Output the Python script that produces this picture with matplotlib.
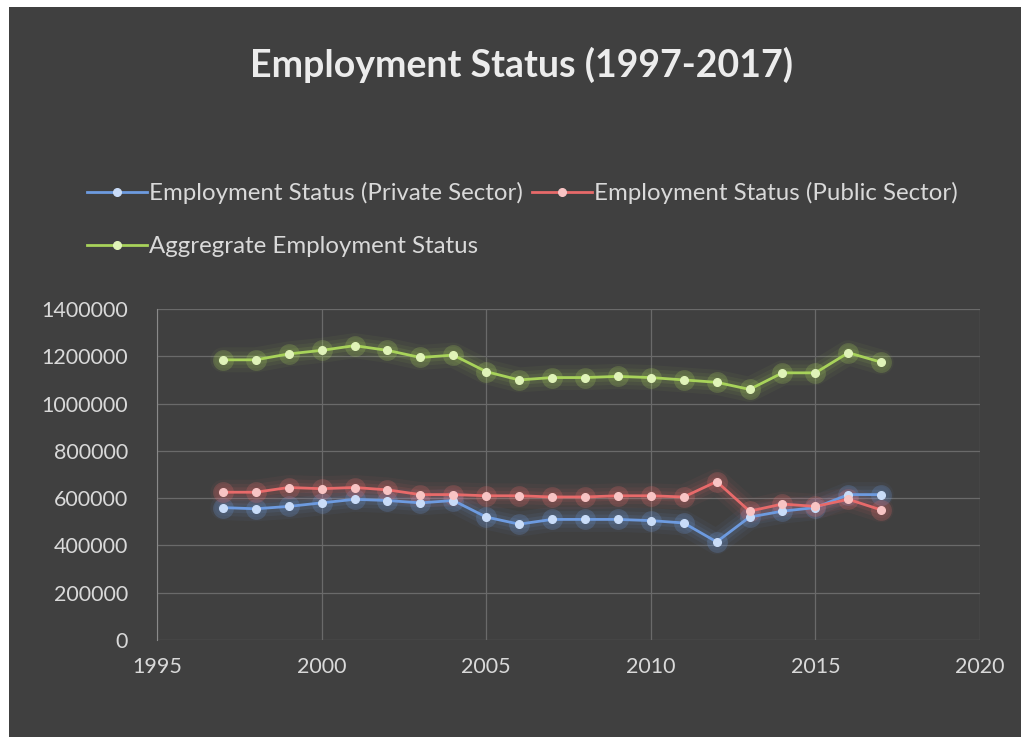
import numpy as np
import matplotlib.pyplot as plt
from matplotlib.patches import Rectangle
from matplotlib.ticker import FuncFormatter

years = list(range(1997, 2018))
private = [560000, 555000, 565000, 580000, 595000, 590000, 580000, 590000, 520000, 490000,
           510000, 510000, 510000, 505000, 495000, 415000, 520000, 545000, 560000, 615000, 615000]
public = [625000, 625000, 645000, 640000, 645000, 635000, 615000, 615000, 610000, 610000,
          605000, 605000, 610000, 610000, 605000, 670000, 545000, 575000, 565000, 595000, 550000]
aggregate = [1185000, 1185000, 1210000, 1225000, 1245000, 1225000, 1195000, 1205000, 1135000, 1100000,
             1110000, 1110000, 1115000, 1110000, 1100000, 1090000, 1060000, 1130000, 1130000, 1215000, 1175000]

labels = ['Employment Status (Private Sector)', 'Employment Status (Public Sector)',
          'Aggregrate Employment Status']
colors = ['#6d9be0', '#e86a6a', '#a8d35a']
marker_colors = ['#c9dcf8', '#f8c4c4', '#e0f3b8']

bg = '#404040'
txt = '#d9d9d9'
plt.rcParams['font.family'] = ['Lato', 'DejaVu Sans']

fig = plt.figure(figsize=(10.21, 7.37), dpi=100, facecolor=bg)
# white strips on the left and top edge
fig.patches.append(Rectangle((0, 0), 9 / 1021, 1, transform=fig.transFigure,
                             facecolor='white', edgecolor='none', zorder=-5))
fig.patches.append(Rectangle((0, 730 / 737), 1, 7 / 737, transform=fig.transFigure,
                             facecolor='white', edgecolor='none', zorder=-5))

ax = fig.add_axes([157 / 1021, 1 - 640 / 737, (980 - 157) / 1021, (640 - 309) / 737])
ax.set_facecolor(bg)

handles = []
for series, c, mc, lab in zip([private, public, aggregate], colors, marker_colors, labels):
    # glow
    for lw, a in [(18, 0.05), (12, 0.07), (7, 0.1)]:
        ax.plot(years, series, color=c, lw=lw, alpha=a, solid_capstyle='round', zorder=2)
    ax.plot(years, series, 'o', color=c, ms=15, alpha=0.22, zorder=2, mec='none')
    h, = ax.plot(years, series, '-o', color=c, lw=2, ms=5.5, mfc=mc, mec=mc, zorder=3, label=lab)
    handles.append(h)

ax.set_xlim(1995, 2020)
ax.set_ylim(0, 1400000)
ax.set_xticks(range(1995, 2021, 5))
ax.set_yticks(range(0, 1400001, 200000))
ax.yaxis.set_major_formatter(FuncFormatter(lambda v, p: f'{int(v)}'))
ax.grid(True, color='#6a6a6a', lw=0.9)
ax.set_axisbelow(True)
for s in ['top', 'right', 'bottom']:
    ax.spines[s].set_visible(False)
ax.spines['left'].set_color('#8a8a8a')
ax.tick_params(length=0, colors=txt, labelsize=15.5)
ax.tick_params(axis='x', pad=12)
ax.tick_params(axis='y', pad=21)

fig.text(0.511, 1 - 65 / 737, 'Employment Status (1997-2017)', ha='center', va='center',
         color='#ececec', fontsize=27, fontweight='bold')

fig.legend(handles=handles[:2], loc='center left', bbox_to_anchor=(87 / 1021, 1 - 193 / 737),
           ncol=2, frameon=False, fontsize=17.3, labelcolor=txt, handlelength=2.5,
           handletextpad=0.1, columnspacing=0.35, borderaxespad=0, borderpad=0)
fig.legend(handles=handles[2:], loc='center left', bbox_to_anchor=(87 / 1021, 1 - 247 / 737),
           frameon=False, fontsize=17.3, labelcolor=txt, handlelength=2.5,
           handletextpad=0.1, borderaxespad=0, borderpad=0)

fig.savefig('out.png', dpi=100, facecolor=bg)
